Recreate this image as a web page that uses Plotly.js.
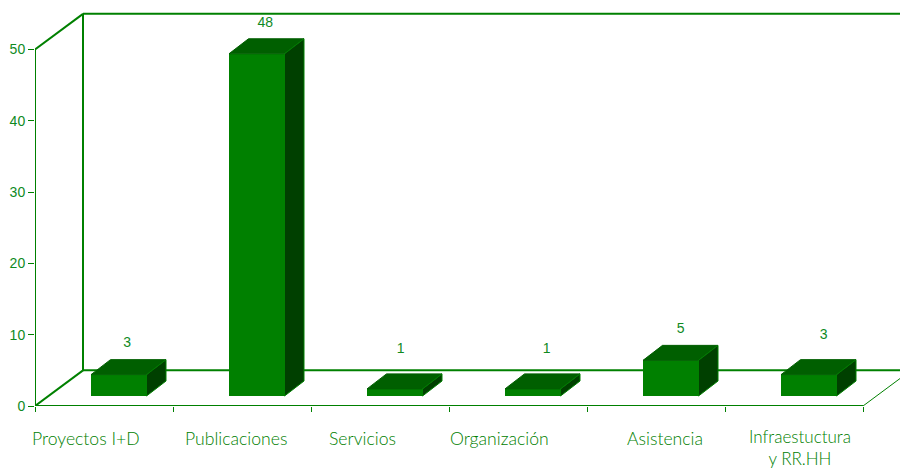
<!DOCTYPE html>
<html><head><meta charset="utf-8">
<script src="https://cdn.plot.ly/plotly-3.0.1.min.js"></script>
<style>html,body{margin:0;padding:0;background:#fff}#c{width:900px;height:470px}</style>
</head><body><div id="c"></div>
<script>
var categories = ["Proyectos I+D","Publicaciones","Servicios","Organización","Asistencia","Infraestuctura<br>y RR.HH"];
var values = [3,48,1,1,5,3];
var yTicks = [0,10,20,30,40,50];
var labelNudgePx = [-18,-6,-18,-19,9,5.5];
var labelDropPx = [20,20,20,20,20,18];
var labelSize = [17.6,17.6,17.6,17.6,17.6,17];
var valueNudgeX = [8.5,8.5,6,14,10,15];
var valueNudgeY = [31.5,30,39.5,39.5,31,39.5];

var GREEN='#008000', TOP='#005f00', SIDE='#004000';
var pxX=138, pxY=7.13;
var xMax=865/pxX, yMax=396/pxY;
var wallDx=48/pxX, wallDy=5;
var barDx=19.5/pxX, barDy=15/pxY, barW=55.5/pxX, barLeft=56/pxX, base=1.4;

var idx=categories.map(function(_,i){return i;});
var traces=[];
traces.push({type:'bar',x:idx.map(function(i){return i+barLeft+barW/2;}),y:values,base:values.map(function(){return base;}),
  width:barW,marker:{color:GREEN,line:{width:0}},hoverinfo:'skip',showlegend:false});
values.forEach(function(v,i){
  var l=i+barLeft,r=l+barW,t=base+v,b=base;
  traces.push({type:'scatter',mode:'lines',x:[l,r,r+barDx,l+barDx,l],y:[t,t,t+barDy,t+barDy,t],fill:'toself',fillcolor:TOP,
    line:{color:TOP,width:1},hoverinfo:'skip',showlegend:false});
  traces.push({type:'scatter',mode:'lines',x:[r,r+barDx,r+barDx,r,r],y:[b,b+barDy,t+barDy,t,b],fill:'toself',fillcolor:SIDE,
    line:{color:GREEN,width:1},hoverinfo:'skip',showlegend:false});
});
traces.push({type:'scatter',mode:'text',x:idx.map(function(i){return i+barLeft+barW/2+valueNudgeX[i]/pxX;}),
  y:values.map(function(v,i){return v+base+valueNudgeY[i]/pxY;}),text:values.map(String),textposition:'middle center',
  textfont:{family:'"Liberation Sans",Arial,sans-serif',size:14,color:'#0f8a1f'},hoverinfo:'skip',showlegend:false,cliponaxis:false});
traces.push({type:'scatter',mode:'lines',cliponaxis:false,
  x:[0,0,null,0,6,null,0,wallDx,null,0,wallDx],
  y:[0,50,null,0,0,null,0,wallDy,null,50,50+wallDy],
  line:{color:GREEN,width:2},hoverinfo:'skip',showlegend:false});
traces.push({type:'scatter',mode:'lines',cliponaxis:false,x:[6,xMax],y:[0,(xMax-6)/wallDx*wallDy],
  line:{color:GREEN,width:1},hoverinfo:'skip',showlegend:false});

var ln={color:GREEN,width:2};
var shapes=[
 {type:'line',layer:'below',xref:'x',yref:'y',x0:wallDx,x1:xMax,y0:wallDy,y1:wallDy,line:ln},
 {type:'line',layer:'below',xref:'x',yref:'y',x0:wallDx,x1:xMax,y0:50+wallDy,y1:50+wallDy,line:ln},
 {type:'line',layer:'below',xref:'x',yref:'y',x0:wallDx,x1:wallDx,y0:wallDy,y1:50+wallDy,line:ln}
];
var annotations=categories.map(function(c,i){
  return {xref:'x',yref:'y',x:i+0.5,y:0,yanchor:'top',xanchor:'center',yshift:-labelDropPx[i],xshift:labelNudgePx[i],text:c,showarrow:false,
    font:{family:'Lato,sans-serif',size:labelSize[i],weight:300,color:GREEN},align:'center'};
});
var layout={width:900,height:470,margin:{l:35,r:0,t:10,b:64},paper_bgcolor:'#fff',plot_bgcolor:'#fff',showlegend:false,
  xaxis:{type:'linear',range:[0,xMax],tickmode:'array',tickvals:[0,1,2,3,4,5,6],ticks:'outside',ticklen:5,tickwidth:1,tickcolor:GREEN,
    showticklabels:false,showgrid:false,zeroline:false,showline:false,fixedrange:true},
  yaxis:{range:[0,yMax],tickmode:'array',tickvals:yTicks,ticktext:yTicks.map(String),ticks:'outside',ticklen:6,tickwidth:1,tickcolor:GREEN,
    tickfont:{family:'"Liberation Sans",Arial,sans-serif',size:14,color:'#0f8a1f'},showgrid:false,zeroline:false,showline:false,fixedrange:true},
  shapes:shapes,annotations:annotations};
Plotly.newPlot('c',traces,layout,{displayModeBar:false,staticPlot:true});
</script></body></html>
